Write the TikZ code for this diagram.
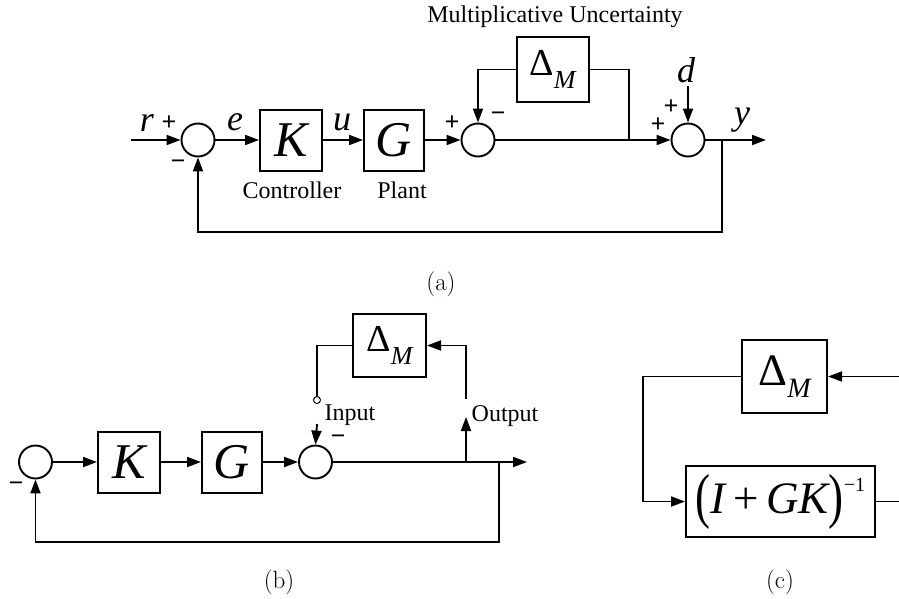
\documentclass[tikz,border=0pt]{standalone}
\usepackage{fontspec}
\usepackage{graphicx}
\usetikzlibrary{arrows.meta}
\newfontfamily\tms{Liberation Serif}
\tikzset{
  blk/.style={draw, line width=2pt, inner sep=0pt, font=\tms},
  sumc/.style={draw, circle, line width=1.9pt, minimum size=33pt, inner sep=0pt},
  sig/.style={line width=1.9pt, -{Triangle[length=14pt,width=10pt]}},
  wire/.style={line width=1.9pt},
  lbl/.style={font=\tms\fontsize{24}{26}\selectfont, inner sep=0pt},
  var/.style={font=\tms\itshape\fontsize{36}{36}\selectfont, inner sep=0pt},
  sgn/.style={font=\tms\bfseries\fontsize{26}{26}\selectfont, inner sep=0pt},
  subcap/.style={font=\fontsize{25}{28}\selectfont, inner sep=0pt},
}
\newcommand{\bigsym}[1]{{\itshape\fontsize{50}{50}\selectfont #1}}
\newcommand{\dmlab}[3]{{\fontsize{#1}{#1}\selectfont Δ}\raisebox{-#3pt}{\itshape\fontsize{#2}{#2}\selectfont M}}

\begin{document}
\begin{tikzpicture}[x=1pt, y=-1pt]
    \useasboundingbox (0,0) rectangle (899,598);
    % (a)
    \coordinate (ra) at (131,140);
    \node[sumc] (sa1) at (198,140) {};
    \node[blk, minimum width=62pt, minimum height=61pt] (ka) at (291,140) {\bigsym{K}};
    \node[blk, minimum width=60pt, minimum height=61pt] (ga) at (394,140) {\bigsym{G}};
    \node[sumc] (sa2) at (478,140) {};
    \node[blk, minimum width=72pt, minimum height=65pt] (dma) at (552.5,69.5) {\dmlab{38}{26}{13}};
    \node[sumc] (sa3) at (688,140) {};
    \coordinate (ja) at (629,140);
    \coordinate (da) at (688,86);
    \coordinate (fa) at (722,140);
    \coordinate (ya) at (766,140);
    \draw[sig] (ra) -- (sa1);
    \draw[sig] (sa1) -- (ka);
    \draw[sig] (ka) -- (ga);
    \draw[sig] (ga) -- (sa2);
    \draw[sig] (sa2) -- (sa3);
    \draw[sig] (dma.west) -| (sa2.north);
    \draw[wire] (dma.east) -| (ja);
    \draw[sig] (da) -- (sa3);
    \draw[sig] (sa3) -- (ya);
    \draw[sig] (fa) -- ++(0,92) -| (sa1.south);
    \node[var] (rl) at (147,123) {r};
    \node[sgn] (pa1) at (169,123) {+};
    \node[sgn] (ma1) at (178,165) {−};
    \node[var] (el) at (235,122) {e};
    \node[var] (ul) at (342,122) {u};
    \node[sgn] (pa2) at (452,123) {+};
    \node[sgn] (ma2) at (498,117) {−};
    \node[sgn] (pa3) at (671,107) {+};
    \node[sgn] (pa4) at (658,125) {+};
    \node[var] (dl) at (686,70) {d};
    \node[var] (yl) at (742,120) {y};
    \node[lbl] (ctl) at (292,190) {Controller};
    \node[lbl] (plt) at (402,190) {Plant};
    \node[lbl] (mul) at (555,17) {Multiplicative Uncertainty};
    \node[subcap] (capa) at (441,284) {(a)};
    % (b)
    \node[sumc] (sb1) at (35.5,462) {};
    \node[blk, minimum width=62pt, minimum height=61pt] (kb) at (129,462) {\bigsym{K}};
    \node[blk, minimum width=60pt, minimum height=61pt] (gb) at (232,462) {\bigsym{G}};
    \node[sumc] (sb2) at (315.5,462) {};
    \node[blk, minimum width=73pt, minimum height=63pt] (dmb) at (389.5,345.5) {\dmlab{38}{26}{13}};
    \node[draw, circle, minimum size=7pt, inner sep=0pt, line width=1pt] (inb) at (317,400) {};
    \coordinate (inb2) at (317,424);
    \coordinate (outb1) at (466,462);
    \coordinate (outb2) at (466,417);
    \coordinate (outb3) at (466,399);
    \coordinate (fb) at (499,462);
    \coordinate (yb) at (527,462);
    \draw[sig] (sb1) -- (kb);
    \draw[sig] (kb) -- (gb);
    \draw[sig] (gb) -- (sb2);
    \draw[sig] (sb2) -- (yb);
    \draw[line width=1.2pt] (dmb.west) -| (inb.north);
    \draw[sig] (inb2) -- (sb2.north);
    \draw[sig] (outb1) -- (outb2);
    \draw[sig] (outb3) |- (dmb.east);
    \draw[sig] (fb) -- ++(0,80) -| (sb1.south);
    \node[lbl] (inl) at (350,415) {Input};
    \node[lbl] (outl) at (505,416) {Output};
    \node[sgn] (mb1) at (338,440) {−};
    \node[sgn] (mb2) at (16,487) {−};
    \node[subcap] (capb) at (279,582) {(b)};
    % (c)
    \node[blk, minimum width=85pt, minimum height=73pt] (dmc) at (784.5,376.5) {\dmlab{45}{28}{12}};
    \node[blk, minimum width=189pt, minimum height=71pt] (invc) at (780.5,501.5)
      {\fontsize{45}{45}\selectfont\raisebox{-3pt}{\scalebox{1}[1.35]{(}}\itshape I\upshape\,+\,\itshape GK\upshape\raisebox{-3pt}{\scalebox{1}[1.35]{)}}\raisebox{22pt}{\fontsize{20}{20}\selectfont −1}};
    \coordinate (inc) at (899,376.5);
    \coordinate (outc) at (899,501.5);
    \draw[sig] (inc) -- (dmc);
    \draw[sig] (dmc.west) -- ++(-98,0) |- (invc.west);
    \draw[wire] (invc) -- (outc);
    \node[subcap] (capc) at (780,582) {(c)};
\end{tikzpicture}
\end{document}
